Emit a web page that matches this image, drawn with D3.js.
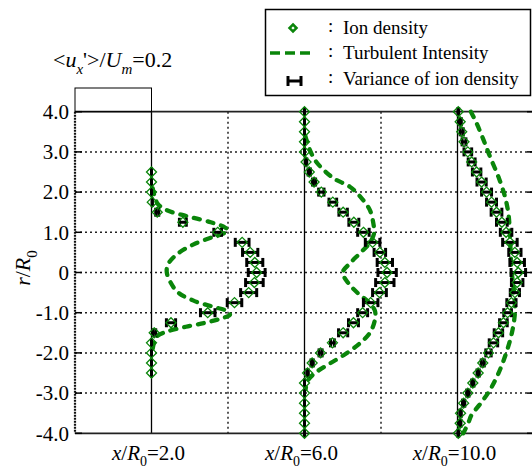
<!DOCTYPE html>
<meta charset="utf-8">
<style>
body { margin: 0; background: #fff; }
text { font-family: "Liberation Serif", "Times New Roman", serif; fill: #000; }
</style>
<body>
<script src="https://cdn.jsdelivr.net/npm/d3@7"></script>
<script>
// stations (x/R0) and radial positions
var stations = [2, 6, 10];
var yTicks = [4, 3, 2, 1, 0, -1, -2, -3, -4];
var yTickLabels = ["4.0", "3.0", "2.0", "1.0", "0", "-1.0", "-2.0", "-3.0", "-4.0"];

var r2 = [2.5, 2.25, 2, 1.75, 1.5, 1.25, 1, 0.75, 0.5, 0.25, 0, -0.25, -0.5, -0.75, -1, -1.25, -1.5, -1.75, -2, -2.25, -2.5];
var dens2 = [0, 0, 0, 0.002, 0.015, 0.082, 0.173, 0.237, 0.258, 0.27, 0.275, 0.269, 0.254, 0.217, 0.147, 0.051, 0.007, 0, 0, 0, 0];
var var2 = [0, 0, 0, 0, 0.004, 0.009, 0.01, 0.018, 0.02, 0.021, 0.022, 0.023, 0.021, 0.019, 0.019, 0.012, 0.004, 0, 0, 0, 0];

var r6 = [4, 3.75, 3.5, 3.25, 3, 2.75, 2.5, 2.25, 2, 1.75, 1.5, 1.25, 1, 0.75, 0.5, 0.25, 0, -0.25, -0.5, -0.75, -1, -1.25, -1.5, -1.75, -2, -2.25, -2.5, -2.75, -3, -3.25, -3.5, -3.75, -4];
var dens6 = [0, 0, 0, 0, 0, 0.004, 0.0125, 0.025, 0.044, 0.074, 0.101, 0.129, 0.154, 0.178, 0.197, 0.21, 0.216, 0.21, 0.196, 0.173, 0.152, 0.128, 0.101, 0.073, 0.042, 0.02, 0.008, 0, 0, 0, 0, 0, 0];
var var6 = [0, 0, 0, 0, 0, 0.002, 0.003, 0.004, 0.007, 0.01, 0.011, 0.013, 0.015, 0.019, 0.015, 0.02, 0.024, 0.024, 0.018, 0.019, 0.013, 0.013, 0.012, 0.005, 0.004, 0.003, 0.002, 0, 0, 0, 0, 0, 0];

var r10 = r6;
var dens10 = [0.002, 0.007, 0.011, 0.017, 0.027, 0.037, 0.05, 0.063, 0.076, 0.089, 0.102, 0.116, 0.127, 0.137, 0.15, 0.156, 0.159, 0.156, 0.15, 0.141, 0.131, 0.12, 0.107, 0.094, 0.081, 0.066, 0.054, 0.04, 0.027, 0.016, 0.008, 0.007, 0.002];
var var10 = [0.001, 0.003, 0.004, 0.005, 0.01, 0.009, 0.011, 0.012, 0.013, 0.013, 0.014, 0.014, 0.015, 0.019, 0.016, 0.019, 0.019, 0.015, 0.012, 0.012, 0.01, 0.01, 0.011, 0.011, 0.007, 0.004, 0.003, 0.003, 0.003, 0.003, 0.002, 0.002, 0.001];

// turbulent intensity curves: radial position / value
var tiR2 = [2.1, 1.9, 1.7, 1.55, 1.4, 1.25, 1.12, 1.05, 0.98, 0.88, 0.7, 0.45, 0.2, 0, -0.25, -0.5, -0.7, -0.85, -0.97, -1.05, -1.15, -1.25, -1.35, -1.47, -1.6, -1.8, -2.0];
var tiV2 = [0.003, 0.008, 0.017, 0.04, 0.093, 0.155, 0.192, 0.2, 0.19, 0.16, 0.11, 0.066, 0.043, 0.04, 0.05, 0.07, 0.11, 0.16, 0.2, 0.205, 0.18, 0.14, 0.09, 0.04, 0.013, 0.005, 0.002];
var tiR6 = [3.4, 3.05, 2.75, 2.35, 2.13, 1.85, 1.55, 1.22, 0.98, 0.73, 0.48, 0.23, 0, -0.27, -0.52, -0.73, -0.95, -1.18, -1.5, -1.76, -2.01, -2.26, -2.47, -2.67, -2.9];
var tiV6 = [0.002, 0.014, 0.031, 0.075, 0.119, 0.149, 0.171, 0.18, 0.182, 0.17, 0.145, 0.119, 0.1, 0.115, 0.14, 0.167, 0.184, 0.184, 0.171, 0.145, 0.11, 0.067, 0.032, 0.01, 0.003];
var tiR10 = [4.0, 3.71, 3.3, 2.88, 2.38, 1.89, 1.47, 0.98, 0.48, 0, -0.52, -1.01, -1.51, -2.01, -2.51, -2.92, -3.25, -3.54, -3.75, -4.0];
var tiV10 = [0.035, 0.05, 0.068, 0.085, 0.107, 0.124, 0.133, 0.137, 0.139, 0.142, 0.148, 0.15, 0.142, 0.127, 0.107, 0.085, 0.061, 0.037, 0.028, 0.015];

var valueScale = 10; // 0.2 of value = 2 units of x/R0
var green = "#0a850a";

var svg = d3.select("body").append("svg")
    .attr("width", 532)
    .attr("height", 470);

var x = d3.scaleLinear().domain([0, 12]).range([75, 534]);
var y = d3.scaleLinear().domain([-4, 4]).range([433.3, 111.7]);

function px(station, v) { return x(station + v * valueScale); }

// grid
var grid = svg.append("g");
grid.selectAll(".hg")
    .data([3, 2, 1, 0, -1, -2, -3])
    .enter().append("line")
    .attr("x1", x(0)).attr("x2", x(12))
    .attr("y1", function(d) { return y(d); })
    .attr("y2", function(d) { return y(d); })
    .attr("stroke", "#222").attr("stroke-width", 1.5)
    .attr("stroke-dasharray", "2,3");
grid.selectAll(".vg")
    .data([4, 8])
    .enter().append("line")
    .attr("x1", function(d) { return x(d); })
    .attr("x2", function(d) { return x(d); })
    .attr("y1", y(4)).attr("y2", y(-4))
    .attr("stroke", "#222").attr("stroke-width", 1.5)
    .attr("stroke-dasharray", "2,3");
grid.selectAll(".vb")
    .data(stations)
    .enter().append("line")
    .attr("x1", function(d) { return x(d); })
    .attr("x2", function(d) { return x(d); })
    .attr("y1", y(4)).attr("y2", y(-4))
    .attr("stroke", "#000").attr("stroke-width", 1.3);

// frame
grid.append("line")
    .attr("x1", x(0)).attr("x2", x(12)).attr("y1", y(4)).attr("y2", y(4))
    .attr("stroke", "#222").attr("stroke-width", 1.8);
grid.append("line")
    .attr("x1", x(0)).attr("x2", x(12)).attr("y1", y(-4)).attr("y2", y(-4))
    .attr("stroke", "#222").attr("stroke-width", 1.8);
grid.append("line")
    .attr("x1", x(0)).attr("x2", x(0)).attr("y1", y(4)).attr("y2", y(-4))
    .attr("stroke", "#111").attr("stroke-width", 2.2)
    .attr("stroke-dasharray", "2,1");

// inner ticks left and right
grid.selectAll(".tl")
    .data(yTicks)
    .enter().append("line")
    .attr("x1", x(0)).attr("x2", x(0) + 7)
    .attr("y1", function(d) { return y(d); })
    .attr("y2", function(d) { return y(d); })
    .attr("stroke", "#000").attr("stroke-width", 1.5);
grid.selectAll(".tr")
    .data(yTicks)
    .enter().append("line")
    .attr("x1", x(12) - 7).attr("x2", x(12))
    .attr("y1", function(d) { return y(d); })
    .attr("y2", function(d) { return y(d); })
    .attr("stroke", "#000").attr("stroke-width", 1.5);

// y axis labels
svg.append("g")
    .attr("transform", "translate(" + (x(0) - 6) + ",0)")
    .call(d3.axisLeft(y).tickValues(yTicks).tickSize(0)
        .tickFormat(function(d, i) { return yTickLabels[i]; }))
    .call(function(g) { g.select(".domain").remove(); })
    .selectAll("text")
    .attr("x", 0)
    .style("font-family", "Liberation Serif")
    .style("font-size", "21px")
    .attr("fill", "#000");

// y title
var yt = svg.append("text")
    .attr("transform", "translate(30,268) rotate(-90)")
    .attr("text-anchor", "middle")
    .style("font-size", "22px");
yt.append("tspan").style("font-style", "italic").text("r");
yt.append("tspan").text("/");
yt.append("tspan").style("font-style", "italic").text("R");
yt.append("tspan").attr("dy", 7).style("font-size", "15px").text("0");

// station labels
stations.forEach(function(s) {
    var t = svg.append("text")
        .attr("x", x(s) - 3)
        .attr("y", 460)
        .attr("text-anchor", "middle")
        .style("font-size", "21px");
    t.append("tspan").style("font-style", "italic").text("x");
    t.append("tspan").text("/");
    t.append("tspan").style("font-style", "italic").text("R");
    t.append("tspan").attr("dy", 6).style("font-size", "14px").text("0");
    t.append("tspan").attr("dy", -6).text("=" + s.toFixed(1));
});

// scale box
svg.append("rect")
    .attr("x", x(0)).attr("y", 88)
    .attr("width", x(2) - x(0)).attr("height", y(4) - 88)
    .attr("fill", "none").attr("stroke", "#000").attr("stroke-width", 1);
var st = svg.append("text").attr("x", 53).attr("y", 67).style("font-size", "22px");
st.append("tspan").text("<");
st.append("tspan").style("font-style", "italic").text("u");
st.append("tspan").attr("dy", 7).style("font-size", "15px").style("font-style", "italic").text("x");
st.append("tspan").attr("dy", -7).text("'>/");
st.append("tspan").style("font-style", "italic").text("U");
st.append("tspan").attr("dy", 7).style("font-size", "15px").style("font-style", "italic").text("m");
st.append("tspan").attr("dy", -7).text("=0.2");

// turbulent intensity
var line = d3.line()
    .x(function(d) { return d[0]; })
    .y(function(d) { return d[1]; })
    .curve(d3.curveCatmullRom.alpha(0.5));

var tiSets = [[2, tiR2, tiV2], [6, tiR6, tiV6], [10, tiR10, tiV10]];
tiSets.forEach(function(set) {
    var pts = set[1].map(function(r, i) { return [px(set[0], set[2][i]), y(r)]; });
    svg.append("path")
        .attr("d", line(pts))
        .attr("fill", "none")
        .attr("stroke", green)
        .attr("stroke-width", 4.3)
        .attr("stroke-linecap", "round")
        .attr("stroke-dasharray", "6,8");
});

// ion density and variance
var denSets = [[2, r2, dens2, var2], [6, r6, dens6, var6], [10, r10, dens10, var10]];
denSets.forEach(function(set) {
    var s = set[0];
    var data = set[1].map(function(r, i) { return {r: r, v: set[2][i], e: set[3][i]}; });
    var g = svg.append("g");
    var eb = g.selectAll(".eb").data(data).enter().append("g");
    eb.append("line")
        .attr("x1", function(d) { return px(s, d.v - d.e); })
        .attr("x2", function(d) { return px(s, d.v + d.e); })
        .attr("y1", function(d) { return y(d.r); })
        .attr("y2", function(d) { return y(d.r); })
        .attr("stroke", "#000").attr("stroke-width", 3);
    [-1, 1].forEach(function(sign) {
        eb.append("line")
            .attr("x1", function(d) { return px(s, d.v + sign * d.e); })
            .attr("x2", function(d) { return px(s, d.v + sign * d.e); })
            .attr("y1", function(d) { return y(d.r) - 4.5; })
            .attr("y2", function(d) { return y(d.r) + 4.5; })
            .attr("stroke", "#000").attr("stroke-width", 3);
    });
    g.selectAll(".dm").data(data).enter().append("path")
        .attr("d", "M0,-5L5,0L0,5L-5,0Z")
        .attr("transform", function(d) { return "translate(" + px(s, d.v) + "," + y(d.r) + ")"; })
        .attr("fill", "none")
        .attr("stroke", green)
        .attr("stroke-width", 1.3);
});

// legend
var lg = svg.append("g");
lg.append("rect")
    .attr("x", 265.5).attr("y", 9.5).attr("width", 265).attr("height", 86)
    .attr("fill", "#fff").attr("stroke", "#000").attr("stroke-width", 1.5);
lg.append("path")
    .attr("d", "M0,-3.5L3.5,0L0,3.5L-3.5,0Z")
    .attr("transform", "translate(293,28)")
    .attr("fill", "none").attr("stroke", green).attr("stroke-width", 2.5);
lg.append("line")
    .attr("x1", 270).attr("x2", 315).attr("y1", 53).attr("y2", 53)
    .attr("stroke", green).attr("stroke-width", 3.5).attr("stroke-dasharray", "10,5");
lg.append("line")
    .attr("x1", 288).attr("x2", 301).attr("y1", 81).attr("y2", 81)
    .attr("stroke", "#000").attr("stroke-width", 3);
lg.append("line")
    .attr("x1", 288).attr("x2", 288).attr("y1", 76).attr("y2", 86)
    .attr("stroke", "#000").attr("stroke-width", 3);
lg.append("line")
    .attr("x1", 301).attr("x2", 301).attr("y1", 76).attr("y2", 86)
    .attr("stroke", "#000").attr("stroke-width", 3);

var legendText = ["Ion density", "Turbulent Intensity", "Variance of ion density"];
var legendY = [34, 59, 85];
legendText.forEach(function(t, i) {
    lg.append("text").attr("x", 328).attr("y", legendY[i] - 2).style("font-size", "19px").text(":");
    lg.append("text").attr("x", 343).attr("y", legendY[i]).style("font-size", "19px").text(t);
});
</script>
</body>
